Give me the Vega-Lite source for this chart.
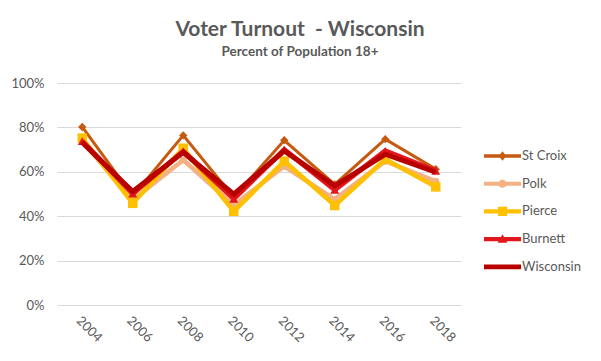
{
  "$schema": "https://vega.github.io/schema/vega-lite/v6.json",
  "autosize": {"type": "none"},
  "width": 404,
  "height": 222,
  "padding": {"left": 57, "top": 83, "right": 140, "bottom": 56},
  "background": "#ffffff",
  "title": {
    "text": "Voter Turnout\u00a0 - Wisconsin",
    "subtitle": "Percent of Population 18+",
    "anchor": "middle",
    "frame": "group",
    "dx": 41,
    "offset": 19,
    "font": "Lato",
    "fontSize": 21,
    "fontWeight": "bold",
    "color": "#595959",
    "subtitleFont": "Lato",
    "subtitleFontSize": 13.5,
    "subtitleFontWeight": "bold",
    "subtitleColor": "#595959",
    "subtitlePadding": 5
  },
  "config": {
    "view": {"stroke": null},
    "axis": {"labelFont": "Lato", "labelFontSize": 13, "labelColor": "#595959", "domain": false, "ticks": false, "title": null},
    "legend": {"labelFont": "Lato", "labelFontSize": 13, "labelColor": "#595959"}
  },
  "datasets": {
    "turnout": [
      {"year": "2004", "series": "St Croix", "value": 80.2},
      {"year": "2006", "series": "St Croix", "value": 49.0},
      {"year": "2008", "series": "St Croix", "value": 76.4},
      {"year": "2010", "series": "St Croix", "value": 48.5},
      {"year": "2012", "series": "St Croix", "value": 74.2},
      {"year": "2014", "series": "St Croix", "value": 54.3},
      {"year": "2016", "series": "St Croix", "value": 74.7},
      {"year": "2018", "series": "St Croix", "value": 61.2},
      {"year": "2004", "series": "Polk", "value": 73.8},
      {"year": "2006", "series": "Polk", "value": 47.3},
      {"year": "2008", "series": "Polk", "value": 65.3},
      {"year": "2010", "series": "Polk", "value": 45.0},
      {"year": "2012", "series": "Polk", "value": 62.5},
      {"year": "2014", "series": "Polk", "value": 47.6},
      {"year": "2016", "series": "Polk", "value": 64.8},
      {"year": "2018", "series": "Polk", "value": 55.7},
      {"year": "2004", "series": "Pierce", "value": 75.2},
      {"year": "2006", "series": "Pierce", "value": 45.8},
      {"year": "2008", "series": "Pierce", "value": 70.6},
      {"year": "2010", "series": "Pierce", "value": 42.2},
      {"year": "2012", "series": "Pierce", "value": 64.8},
      {"year": "2014", "series": "Pierce", "value": 44.8},
      {"year": "2016", "series": "Pierce", "value": 65.6},
      {"year": "2018", "series": "Pierce", "value": 53.2},
      {"year": "2004", "series": "Burnett", "value": 73.8},
      {"year": "2006", "series": "Burnett", "value": 50.2},
      {"year": "2008", "series": "Burnett", "value": 69.2},
      {"year": "2010", "series": "Burnett", "value": 47.8},
      {"year": "2012", "series": "Burnett", "value": 70.0},
      {"year": "2014", "series": "Burnett", "value": 51.9},
      {"year": "2016", "series": "Burnett", "value": 69.4},
      {"year": "2018", "series": "Burnett", "value": 60.4},
      {"year": "2004", "series": "Wisconsin", "value": 73.2},
      {"year": "2006", "series": "Wisconsin", "value": 51.1},
      {"year": "2008", "series": "Wisconsin", "value": 68.8},
      {"year": "2010", "series": "Wisconsin", "value": 49.9},
      {"year": "2012", "series": "Wisconsin", "value": 69.4},
      {"year": "2014", "series": "Wisconsin", "value": 53.7},
      {"year": "2016", "series": "Wisconsin", "value": 67.9},
      {"year": "2018", "series": "Wisconsin", "value": 59.8}
    ]
  },
  "encoding": {
    "x": {
      "field": "year", "type": "ordinal",
      "scale": {"type": "point", "padding": 0.5},
      "axis": {"labelAngle": 45, "labelPadding": 9, "grid": false}
    },
    "y": {
      "field": "value", "type": "quantitative",
      "scale": {"domain": [0, 100], "nice": false},
      "axis": {"values": [0, 20, 40, 60, 80, 100], "labelExpr": "datum.value + '%'", "labelPadding": 13, "grid": true, "gridColor": "#d9d9d9", "gridWidth": 1}
    }
  },
  "layer": [
    {"transform": [{"filter": "datum.series == 'St Croix'"}], "data": {"name": "turnout"}, "mark": {"type": "line", "strokeWidth": 3, "color": "#C55A11"}},
    {"transform": [{"filter": "datum.series == 'St Croix'"}], "data": {"name": "turnout"}, "mark": {"type": "point", "shape": "diamond", "filled": true, "size": 70, "opacity": 1, "color": "#C55A11"}},
    {"transform": [{"filter": "datum.series == 'Polk'"}], "data": {"name": "turnout"}, "mark": {"type": "line", "strokeWidth": 4.5, "color": "#F4B183"}},
    {"transform": [{"filter": "datum.series == 'Polk'"}], "data": {"name": "turnout"}, "mark": {"type": "point", "shape": "circle", "filled": true, "size": 50, "opacity": 1, "color": "#F4B183"}},
    {"transform": [{"filter": "datum.series == 'Pierce'"}], "data": {"name": "turnout"}, "mark": {"type": "line", "strokeWidth": 4.5, "color": "#FFC000"}},
    {"transform": [{"filter": "datum.series == 'Pierce'"}], "data": {"name": "turnout"}, "mark": {"type": "point", "shape": "square", "filled": true, "size": 90, "opacity": 1, "color": "#FFC000"}},
    {"transform": [{"filter": "datum.series == 'Burnett'"}], "data": {"name": "turnout"}, "mark": {"type": "line", "strokeWidth": 5, "color": "#E3161B"}},
    {"transform": [{"filter": "datum.series == 'Burnett'"}], "data": {"name": "turnout"}, "mark": {"type": "point", "shape": "triangle-up", "filled": true, "size": 80, "opacity": 1, "color": "#E3161B"}},
    {"transform": [{"filter": "datum.series == 'Wisconsin'"}], "data": {"name": "turnout"}, "mark": {"type": "line", "strokeWidth": 5, "color": "#B80000"}},
    {
      "data": {"name": "turnout"},
      "mark": {"type": "point", "filled": true, "opacity": 0},
      "encoding": {
        "color": {
          "field": "series", "type": "nominal",
          "scale": {"domain": ["St Croix", "Polk", "Pierce", "Burnett", "Wisconsin"], "range": ["#C55A11", "#F4B183", "#FFC000", "#E3161B", "#B80000"]},
          "legend": {"title": null, "orient": "none", "legendX": 427, "legendY": 63, "symbolSize": 1369, "clipHeight": 20, "rowPadding": 7.7, "labelOffset": 1, "symbolStrokeWidth": 0, "symbolOpacity": 1}
        },
        "shape": {
          "field": "series", "type": "nominal",
          "scale": {
            "domain": ["St Croix", "Polk", "Pierce", "Burnett", "Wisconsin"],
            "range": [
              "M-1,-0.09H1V0.09H-1Z M0,-0.26L0.2,0L0,0.26L-0.2,0Z",
              "M-1,-0.11H1V0.11H-1Z M-0.22,0A0.22,0.22 0 1,1 0.22,0A0.22,0.22 0 1,1 -0.22,0Z",
              "M-1,-0.11H1V0.11H-1Z M-0.25,-0.25H0.25V0.25H-0.25Z",
              "M-1,-0.12H1V0.12H-1Z M0,-0.26L0.26,0.2H-0.26Z",
              "M-1,-0.13H1V0.13H-1Z"
            ]
          },
          "legend": {"title": null, "orient": "none", "legendX": 427, "legendY": 63, "symbolSize": 1369, "clipHeight": 20, "rowPadding": 7.7, "labelOffset": 1, "symbolStrokeWidth": 0, "symbolOpacity": 1}
        }
      }
    }
  ]
}
